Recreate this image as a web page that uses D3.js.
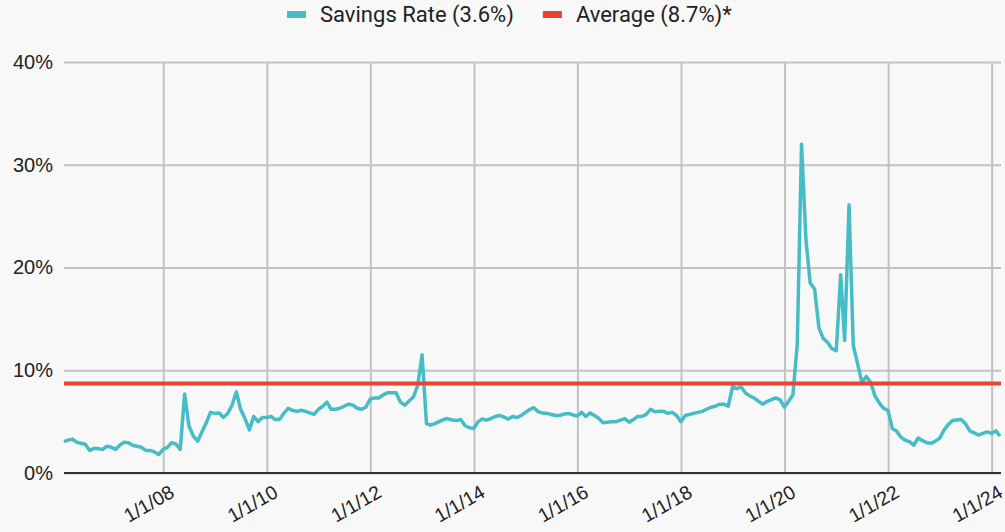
<!DOCTYPE html>
<html>
<head>
<meta charset="utf-8">
<script src="https://cdn.jsdelivr.net/npm/d3@7"></script>
<style>
  body { margin: 0; background: #f8f8f8; }
  svg { display: block; font-family: Roboto, "Noto Sans", sans-serif; }
</style>
</head>
<body>
<svg id="chart" width="1005" height="532"></svg>
<script>
// monthly personal savings rate (%), Jan 2006 .. Feb 2024
var startYear = 2006;
var savingsRate = [
  3.05, 3.2, 3.3, 3.0, 2.9, 2.8, 2.2, 2.4, 2.35, 2.3, 2.6, 2.5,
  2.3, 2.7, 3.0, 2.95, 2.7, 2.6, 2.5, 2.2, 2.2, 2.05, 1.8, 2.3,
  2.5, 2.95, 2.8, 2.3, 7.7, 4.6, 3.6, 3.1, 4.0, 4.9, 5.9, 5.8,
  5.85, 5.4, 5.8, 6.6, 7.9, 6.2, 5.3, 4.2, 5.5, 5.0, 5.4, 5.4,
  5.5, 5.2, 5.2, 5.8, 6.3, 6.1, 6.0, 6.1, 6.0, 5.85, 5.7, 6.2,
  6.5, 6.9, 6.2, 6.2, 6.3, 6.5, 6.7, 6.6, 6.3, 6.2, 6.4, 7.2,
  7.3, 7.3, 7.6, 7.8, 7.8, 7.8, 6.9, 6.6, 7.0, 7.4, 8.5, 11.5,
  4.8, 4.65, 4.8, 5.0, 5.2, 5.3, 5.15, 5.1, 5.2, 4.6, 4.4, 4.35,
  5.0, 5.25, 5.15, 5.3, 5.5, 5.6, 5.45, 5.25, 5.5, 5.4, 5.6, 5.9,
  6.2, 6.35, 5.95, 5.85, 5.8, 5.7, 5.6, 5.6, 5.75, 5.8, 5.65, 5.55,
  5.9, 5.5, 5.85, 5.6, 5.3, 4.9, 4.95, 5.0, 5.0, 5.15, 5.3, 4.95,
  5.2, 5.5, 5.5, 5.7, 6.2, 5.95, 6.0, 6.0, 5.8, 5.9, 5.6, 5.0,
  5.6, 5.7, 5.8, 5.9, 6.0, 6.2, 6.4, 6.5, 6.7, 6.7, 6.5, 8.4,
  8.2, 8.4, 7.8, 7.5, 7.3, 7.0, 6.7, 6.95, 7.15, 7.3, 7.15, 6.4,
  7.0, 7.6, 12.6, 32.0, 22.7, 18.5, 17.9, 14.1, 13.1, 12.7, 12.1, 11.9,
  19.3, 12.9, 26.1, 12.4, 10.6, 8.8, 9.4, 8.8, 7.5, 6.8, 6.3, 6.1,
  4.3, 4.1, 3.5, 3.2, 3.05, 2.7, 3.4, 3.15, 2.95, 2.9, 3.1, 3.4,
  4.2, 4.7, 5.1, 5.15, 5.2, 4.8, 4.1, 3.9, 3.7, 3.85, 4.0, 3.85,
  4.1, 3.6
];
var averageRate = 8.7;
var seriesNames = ["Savings Rate (3.6%)", "Average (8.7%)*"];
var seriesColors = ["#46bdc6", "#ea4335"];
var yTicks = [0, 10, 20, 30, 40];
var xTickYears = [2008, 2010, 2012, 2014, 2016, 2018, 2020, 2022, 2024];

// each value is dated at the end of its month
var points = savingsRate.map(function(v, i) {
  return { date: new Date(startYear, i + 1, 0), value: v };
});

var svg = d3.select('#chart');
var plotLeft = 64, plotRight = 1001, plotTop = 62, plotBottom = 473;

var x = d3.scaleTime()
  .domain(d3.extent(points, function(d) { return d.date; }))
  .range([64, 1000]);
var y = d3.scaleLinear().domain([0, 40]).range([plotBottom, plotTop]);

// horizontal grid + y labels
var yAxis = svg.append('g')
  .attr('transform', 'translate(' + plotLeft + ',0)')
  .call(d3.axisLeft(y).tickValues(yTicks).tickFormat(function(d) { return d + '%'; })
    .tickSize(-(plotRight - plotLeft)).tickPadding(11));
yAxis.select('.domain').remove();
yAxis.selectAll('line').attr('stroke', '#c2c2c2').attr('stroke-width', 2);
yAxis.selectAll('text').attr('fill', '#222').style('font-size', '20px');

// vertical grid + slanted x labels
var xTicks = xTickYears.map(function(yr) { return new Date(yr, 0, 1); });
var xAxis = svg.append('g')
  .attr('transform', 'translate(0,' + plotBottom + ')')
  .call(d3.axisBottom(x).tickValues(xTicks).tickFormat(d3.timeFormat('%-m/%-d/%y'))
    .tickSize(-(plotBottom - plotTop)).tickPadding(0));
xAxis.select('.domain').remove();
xAxis.selectAll('line').attr('stroke', '#c2c2c2').attr('stroke-width', 2);
xAxis.selectAll('text')
  .attr('fill', '#222')
  .style('font-size', '19.5px')
  .attr('text-anchor', 'end')
  .attr('y', 0)
  .attr('dy', 0)
  .attr('transform', 'translate(12,23) rotate(-30)');

// baseline
svg.append('line')
  .attr('x1', plotLeft).attr('x2', plotRight)
  .attr('y1', y(0)).attr('y2', y(0))
  .attr('stroke', '#333').attr('stroke-width', 2);

// savings rate line
var line = d3.line()
  .x(function(d) { return x(d.date); })
  .y(function(d) { return y(d.value); });

svg.append('path')
  .datum(points)
  .attr('d', line)
  .attr('fill', 'none')
  .attr('stroke', seriesColors[0])
  .attr('stroke-width', 3.5)
  .attr('stroke-linejoin', 'round');

// average line
svg.append('line')
  .attr('x1', plotLeft).attr('x2', plotRight)
  .attr('y1', y(averageRate)).attr('y2', y(averageRate))
  .attr('stroke', seriesColors[1]).attr('stroke-width', 4);

// legend
var legend = svg.append('g').attr('class', 'legend');
var lx = 287;
seriesNames.forEach(function(name, i) {
  var g = legend.append('g').attr('transform', 'translate(' + lx + ',0)');
  g.append('rect').attr('x', 0).attr('y', 11).attr('width', 19).attr('height', 7)
    .attr('fill', seriesColors[i]);
  var t = g.append('text').attr('x', 33).attr('y', 22)
    .attr('fill', '#222').style('font-size', '22px').text(name);
  lx += 33 + t.node().getComputedTextLength() + 29;
});
</script>
</body>
</html>
